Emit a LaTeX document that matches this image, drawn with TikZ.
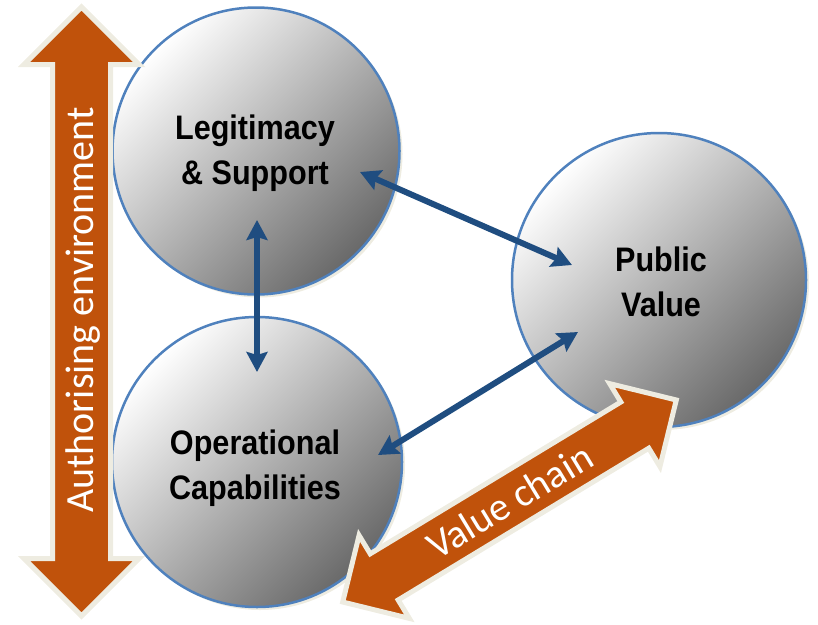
\documentclass[tikz,border=0pt]{standalone}
\usepackage{fontspec}
\newfontfamily\labfont[FakeStretch=0.9]{Liberation Sans}
\newfontfamily\calfont{Carlito}
\usetikzlibrary{arrows.meta,shadows}
\definecolor{circedge}{RGB}{79,129,189}
\definecolor{arrblue}{RGB}{31,77,128}
\definecolor{rust}{RGB}{192,82,11}
\definecolor{beige}{RGB}{238,236,225}
\definecolor{shadegray}{RGB}{105,105,105}
\begin{document}
\begin{tikzpicture}[x=1pt,y=-1pt,
  circ/.style={circle, inner sep=0pt, draw=circedge, line width=2.5pt,
    top color=white, bottom color=shadegray, shading angle=45,
    general shadow={fill=beige, shadow xshift=3pt, shadow yshift=-3pt}},
  lab/.style={font=\labfont\bfseries\fontsize{34}{45}\selectfont, align=center, text=black, inner sep=0pt},
  link/.style={draw=arrblue, line width=6pt,
    {Stealth[length=20pt,width=21pt,inset=3pt]}-{Stealth[length=20pt,width=21pt,inset=3pt]}},
  bigarrow/.style={fill=rust, draw=beige, line width=5pt, line join=miter},
  bigtext/.style={font=\calfont\fontsize{40}{48}\selectfont, text=white, inner sep=0pt}]
\useasboundingbox (0,0) rectangle (818,624);

% circles
\node[circ, minimum size=287pt] (leg) at (256,151) {};
\node[circ, minimum size=290pt] (ops) at (257,462) {};
\node[circ, minimum size=294pt] (pub) at (659,280) {};

% labels
\node[lab] (legT) at (255,153) {Legitimacy\\\& Support};
\node[lab] (opsT) at (255,468) {Operational\\Capabilities};
\node[lab] (pubT) at (661,282) {Public\\Value};

% blue connectors
\coordinate (l1) at (360,172);
\coordinate (p1) at (572,265);
\coordinate (l2) at (257,220);
\coordinate (o2) at (257,372);
\coordinate (o3) at (378,455);
\coordinate (p3) at (578,332);
\draw[link] (l1) -- (p1);
\draw[link] (l2) -- (o2);
\draw[link] (o3) -- (p3);

% vertical orange arrow
\draw[bigarrow] (81.5,7) -- (139,64.5) -- (110.5,64.5) -- (110.5,558.5) -- (139,558.5)
  -- (81.5,616) -- (24,558.5) -- (52.5,558.5) -- (52.5,64.5) -- (24,64.5) -- cycle;
\node[bigtext, rotate=90] (auth) at (83,310) {Authorising environment};

% diagonal orange arrow
\begin{scope}[shift={(509.5,501)}, rotate=31.2]
\draw[bigarrow] (-195,0) -- (-146.5,-48.5) -- (-146.5,-27) -- (146.5,-27) -- (146.5,-48.5)
  -- (195,0) -- (146.5,48.5) -- (146.5,27) -- (-146.5,27) -- (-146.5,48.5) -- cycle;
\node[bigtext, transform shape] (vc) at (0,0) {Value chain};
\end{scope}
\end{tikzpicture}
\end{document}
